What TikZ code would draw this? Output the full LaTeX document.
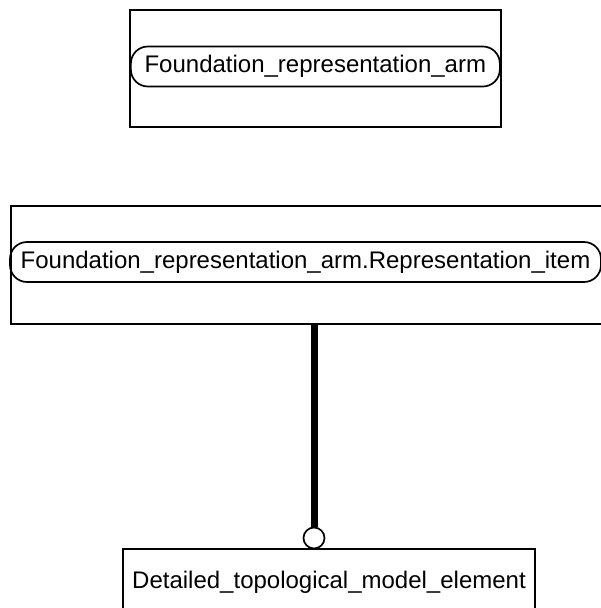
\documentclass[tikz,border=0pt]{standalone}
\usepackage{fontspec}
\setmainfont{Liberation Sans}
\usetikzlibrary{positioning}

\begin{document}
\begin{tikzpicture}[x=1pt, y=-1pt, line width=1.7pt,
      every node/.append style={font=\fontsize{24}{28}\selectfont},
      entity/.style={draw, rectangle, inner sep=0pt},
      attrib/.style={draw, rounded corners=17pt, inner sep=0pt, minimum height=40pt},
      ring/.style={draw, circle, fill=white, inner sep=0pt, minimum size=21pt}]
    \useasboundingbox (0,0) rectangle (601,608);
    \clip (0,0) rectangle (601,608);
    \node (ArmSchema) [entity, anchor=north west, minimum width=371pt, minimum height=117pt] at (129,9) {};
    \node (ArmName) [attrib, minimum width=369pt] at (ArmSchema.center |- 0,66.5) {Foundation\_representation\_arm};
    \node (ItemBox) [entity, anchor=north west, minimum width=596pt, minimum height=118pt] at (10,205) {};
    \node (ItemName) [attrib, minimum width=591pt] at (305.5,262) {Foundation\_representation\_arm.Representation\_item};
    \node (TopoBox) [entity, minimum width=412pt, minimum height=66pt] at (329,582) {Detailed\_topological\_model\_element};
    \node (Ring) [ring] at (314,538) {};
    \draw [line width=7pt] (ItemBox.south -| Ring) -- (Ring.north);
  \end{tikzpicture}
\end{document}
